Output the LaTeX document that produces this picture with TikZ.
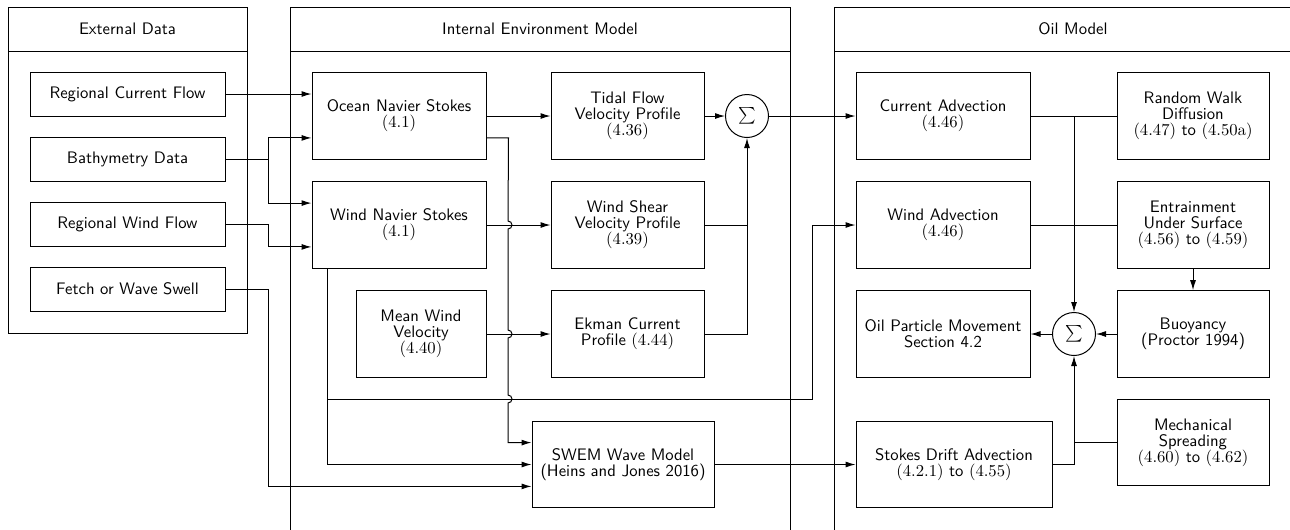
\documentclass[tikz,border=0pt]{standalone}
\usetikzlibrary{arrows.meta, positioning, calc}
\tikzset{
  every picture/.style={font=\sffamily\fontsize{10}{9.6}\selectfont, line width=0.6pt},
  box/.style={draw, align=center, minimum width=#1, minimum height=52pt, inner sep=2pt},
  box/.default=104.4pt,
  src/.style={draw, align=center, minimum width=117pt, minimum height=26.4pt},
  sum/.style={draw, circle, minimum size=25.8pt, inner sep=0pt},
  arrow/.style={-{Latex[length=6pt, width=3.6pt]}},
  hop/.style={start angle=90, end angle=-90, radius=2.4pt},
}

\begin{document}
\begin{tikzpicture}[x=0.6pt, y=-0.6pt]
  \useasboundingbox (0,0) rectangle (1290,529);
  \clip (0,0) rectangle (1290,529);
  % panels
  \draw (8,7) rectangle (247,333) (8,51) -- (247,51);
  \draw (290,7) rectangle (790,560) (290,51) -- (790,51);
  \draw (834,7) rectangle (1312,560) (834,51) -- (1312,51);
  \node (hext) at (127.5,29) {External Data};
  \node (hint) at (540,29) {Internal Environment Model};
  \node (hoil) at (1073,29) {Oil Model};

  % external data
  \foreach \t [count=\i] in {Regional Current Flow, Bathymetry Data, Regional Wind Flow, Fetch or Wave Swell}
    \node[src] (ext\i) at (127.5, 29+65*\i) {\t};

  % internal environment model
  \node[box] (ons) at (399,116) {Ocean Navier Stokes\\$(4.1)$};
  \node[box] (wns) at (399,225) {Wind Navier Stokes\\$(4.1)$};
  \node[box=78pt] (mwv) at (421,334) {Mean Wind\\Velocity\\$(4.40)$};
  \node[box=91.8pt] (tfp) at (627.5,116) {Tidal Flow\\Velocity Profile\\$(4.36)$};
  \node[box=91.8pt] (wsp) at (627.5,225) {Wind Shear\\Velocity Profile\\$(4.39)$};
  \node[box=91.8pt] (ekp) at (627.5,334) {Ekman Current\\Profile $(4.44)$};
  \node[box=109.2pt] (swem) at (623,464.5) {SWEM Wave Model\\(Heins and Jones 2016)};
  \node[sum] (sum1) at (747,116) {$\sum$};

  % oil model
  \node[box] (ca) at (943,116) {Current Advection\\$(4.46)$};
  \node[box] (wa) at (943,225) {Wind Advection\\$(4.46)$};
  \node[box] (opm) at (943,334) {Oil Particle Movement\\Section 4.2};
  \node[box=117.6pt] (sda) at (954,464.5) {Stokes Drift Advection\\$(4.2.1)$ to $(4.55)$};
  \node[box=91.2pt] (rwd) at (1193,116) {Random Walk\\Diffusion\\$(4.47)$ to $(4.50\mathrm{a})$};
  \node[box=91.2pt] (eus) at (1193,225) {Entrainment\\Under Surface\\$(4.56)$ to $(4.59)$};
  \node[box=91.2pt] (buoy) at (1193,334) {Buoyancy\\(Proctor 1994)};
  \node[box=91.2pt] (mech) at (1193,442.5) {Mechanical\\Spreading\\$(4.60)$ to $(4.62)$};
  \node[sum] (sum2) at (1074,334) {$\sum$};

  % ports
  \coordinate (op) at ($(ons.north east)!.75!(ons.south east)$);
  \coordinate (op2) at ($(ons.north west)!.75!(ons.south west)$);
  \coordinate (wp1) at ($(wns.north west)!.25!(wns.south west)$);
  \coordinate (wp2) at ($(wns.north west)!.75!(wns.south west)$);
  \coordinate (sw1) at ($(swem.north west)!.25!(swem.south west)$);
  \coordinate (sw3) at ($(swem.north west)!.75!(swem.south west)$);
  \coordinate (jb) at (268,159);
  \coordinate (wb) at ([xshift=9.6pt]wns.south west);
  \coordinate (wj) at (328,399);
  \coordinate (jc) at (sum2 |- ca.east);

  % external -> internal
  \draw[arrow] (ext1.east) -- (ext1.east -| ons.west);
  \draw (ext2.east) -- (jb);
  \draw[arrow] (jb) |- (op2);
  \draw[arrow] (jb) |- (wp1);
  \draw[arrow] (ext3.east) -- (268,224) |- (wp2);
  \draw[arrow] (ext4.east) -- (268,289) |- (sw3);

  % internal
  \draw[arrow] (ons.east) -- (tfp.west);
  \draw[arrow] (wns.east) -- (wsp.west);
  \draw[arrow] (mwv.east) -- (ekp.west);
  \draw[arrow] (tfp.east) -- (sum1.west);
  \draw (ekp.east) -| (sum1 |- wsp.east);
  \draw[arrow] (wsp.east) -| (sum1.south);
  \draw[arrow] (op) -- ++(22,0) -- (508,221) arc[hop] -- (508,330) arc[hop]
    -- (508,395) arc[hop] |- (sw1);
  \draw[arrow] (wb) |- (swem.west);
  \draw[arrow] (wj) -- (812,399) |- (wa.west);

  % internal -> oil
  \draw[arrow] (sum1.east) -- (ca.west);
  \draw[arrow] (swem.east) -- (sda.west);

  % oil
  \draw (ca.east) -- (rwd.west);
  \draw (wa.east) -- (eus.west);
  \draw[arrow] (jc) -- (sum2.north);
  \draw[arrow] (eus.south) -- (buoy.north);
  \draw[arrow] (buoy.west) -- (sum2.east);
  \draw[arrow] (sum2.west) -- (opm.east);
  \draw[arrow] (sda.east) -| (sum2.south);
  \draw (mech.west) -- (mech.west -| sum2.south);
\end{tikzpicture}
\end{document}
